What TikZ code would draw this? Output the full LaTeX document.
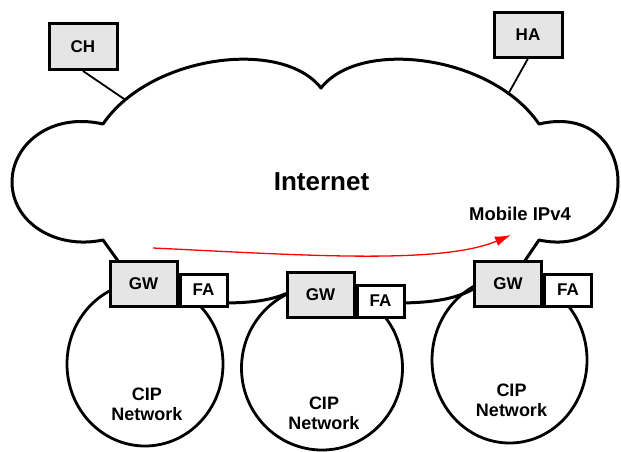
\documentclass[tikz,border=0pt]{standalone}
\usepackage{fontspec}
\setmainfont{Liberation Sans}
\usetikzlibrary{shapes,arrows.meta,backgrounds}

\begin{document}
\begin{tikzpicture}[
    x=1pt, y=-1pt,
    host/.style={rectangle, draw=black, fill=black!10, line width=3pt, minimum width=68pt, minimum height=46pt, inner sep=0pt, font=\fontsize{17}{20}\selectfont\bfseries},
    gateway/.style={host, minimum width=67pt, minimum height=45pt},
    agent/.style={rectangle, draw=black, fill=white, line width=3pt, minimum width=47pt, minimum height=32pt, inner sep=0pt, font=\fontsize{17}{20}\selectfont\bfseries},
    network/.style={ellipse, draw=black, line width=2.8pt, inner sep=0pt},
    nettext/.style={align=center, font=\fontsize{18}{20}\selectfont\bfseries},
    cloudline/.style={line width=3pt, line join=round},
    link/.style={line width=1.8pt},
    arrow/.style={-{Latex[length=16pt,width=10pt]}, red, line width=1.3pt}
]
    \useasboundingbox (0,0) rectangle (621,451);

    % CIP networks
    \node[network, minimum width=156pt, minimum height=164pt] (cip1) at (145,364) {};
    \node[network, minimum width=161pt, minimum height=164pt] (cip2) at (322,368) {};
    \node[network, minimum width=155pt, minimum height=166pt] (cip3) at (509.5,360) {};

    % Gateways and foreign agents
    \node[gateway] (gw1) at (143.5,283.5) {GW};
    \node[agent, anchor=south west] (fa1) at (gw1.south east) {FA};
    \node[gateway] (gw2) at (320.5,294.5) {GW};
    \node[agent, anchor=south west] (fa2) at (gw2.south east) {FA};
    \node[gateway] (gw3) at (508,283.5) {GW};
    \node[agent, anchor=south west] (fa3) at (gw3.south east) {FA};

    % Hosts
    \node[host] (ch) at (83,46.5) {CH};
    \node[host, minimum height=45pt] (ha) at (528,34.5) {HA};

    % Labels
    \node[font=\fontsize{26}{30}\selectfont\bfseries] (inet) at (321.5,182) {Internet};
    \node[font=\fontsize{18.5}{22}\selectfont\bfseries] (mip) at (520,214) {Mobile IPv4};
    \node[nettext] (cip1-text) at ([xshift=2pt,yshift=-40pt]cip1.center) {CIP\\Network};
    \node[nettext] (cip2-text) at ([xshift=2pt,yshift=-45pt]cip2.center) {CIP\\Network};
    \node[nettext] (cip3-text) at ([xshift=2pt,yshift=-40pt]cip3.center) {CIP\\Network};

    % Internet cloud
    \begin{scope}[on background layer]
        \draw[cloudline] (121,265) -- (103,240)
            .. controls (55,250) and (12,222) .. (12,182)
            .. controls (12,145) and (50,112) .. (103,124)
            .. controls (150,55) and (282,38) .. coordinate[pos=0.13] (ch-in) (321,88)
            .. controls (360,38) and (492,55) .. coordinate[pos=0.83] (ha-in) (539,124)
            .. controls (590,112) and (618,145) .. (618,182)
            .. controls (618,222) and (585,250) .. (539,240)
            -- (522,265);
        \draw[cloudline] (220,303) .. controls (255,303) and (272,300) .. (290,292);
        \draw[cloudline] (396,303) .. controls (440,303) and (460,297) .. (477,287);
    \end{scope}

    % Links
    \draw[link] (ch.south) -- (ch-in);
    \draw[link] (ha.south) -- (ha-in);

    % Route
    \coordinate (route-start) at (153,248);
    \coordinate (route-end) at (511,235);
    \draw[arrow] (route-start) .. controls (300,255) and (440,265) .. (route-end);
\end{tikzpicture}
\end{document}
